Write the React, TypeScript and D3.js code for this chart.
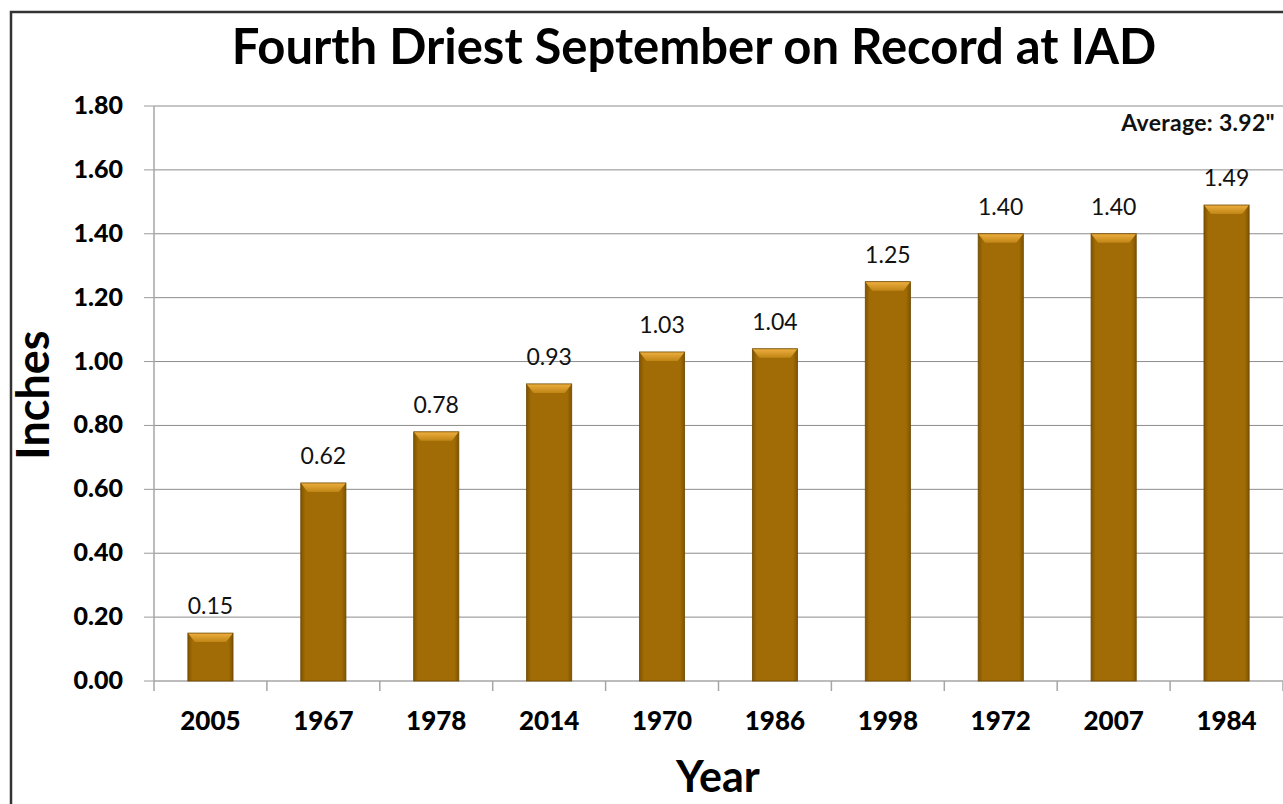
import React from "react";
import * as d3 from "d3";

const years = ["2005", "1967", "1978", "2014", "1970", "1986", "1998", "1972", "2007", "1984"];
const inches = [0.15, 0.62, 0.78, 0.93, 1.03, 1.04, 1.25, 1.4, 1.4, 1.49];
const yTicks = [0, 0.2, 0.4, 0.6, 0.8, 1.0, 1.2, 1.4, 1.6, 1.8];
const titleText = "Fourth Driest September on Record at IAD";
const averageText = 'Average: 3.92"';

const W = 1283;
const H = 804;
const M = { left: 154, right: 1283, top: 106, bottom: 681 };
const FONT = "Lato, Open Sans, DejaVu Sans, sans-serif";

export default function App() {
  const x = d3.scaleBand<string>().domain(years).range([M.left, M.right]).paddingInner(0.6).paddingOuter(0.3);
  const band = d3.scaleBand<string>().domain(years).range([M.left, M.right]);
  const y = d3.scaleLinear().domain([0, 1.8]).range([M.bottom, M.top]);
  const bw = x.bandwidth();
  const bevX = 7;
  const bevY = 9;

  return (
    <svg width={W} height={H} style={{ position: "absolute", left: 0, top: 0, display: "block" }}>
      <defs>
        <linearGradient id="body" x1="0" x2="1" y1="0" y2="0">
          <stop offset="0" stopColor="#7f5300" />
          <stop offset="0.1" stopColor="#a16c05" />
          <stop offset="0.9" stopColor="#a16c05" />
          <stop offset="1" stopColor="#7f5300" />
        </linearGradient>
        <linearGradient id="topbev" x1="0" x2="0" y1="0" y2="1">
          <stop offset="0" stopColor="#eeb040" />
          <stop offset="1" stopColor="#c08515" />
        </linearGradient>
      </defs>
      <rect x={0} y={0} width={W} height={H} fill="#fff" />
      <path d={`M11,${H} L11,12 L${W},12`} fill="none" stroke="#333" strokeWidth={2.5} />
      <text x={694} y={64} textAnchor="middle" fontFamily={FONT} fontWeight="bold" fontSize={49} fill="#000">
        {titleText}
      </text>
      {yTicks.map((t) => (
        <g key={t}>
          {t > 0 && <line x1={M.left} x2={M.right} y1={y(t)} y2={y(t)} stroke="#8c8c8c" strokeWidth={1} />}
          <line x1={M.left - 10} x2={M.left} y1={y(t)} y2={y(t)} stroke="#9a9a9a" strokeWidth={1} />
          <text x={123} y={y(t) + 8} textAnchor="end" fontFamily={FONT} fontWeight={900} fontSize={25} fill="#000">
            {t.toFixed(2)}
          </text>
        </g>
      ))}
      <line x1={M.left} x2={M.left} y1={M.top} y2={M.bottom + 10} stroke="#a6a6a6" strokeWidth={1.5} />
      <line x1={M.left} x2={M.right} y1={M.bottom} y2={M.bottom} stroke="#a6a6a6" strokeWidth={1.5} />
      {years.map((yr) => {
        const bx = band(yr)! + band.bandwidth();
        return <line key={"t" + yr} x1={bx} x2={bx} y1={M.bottom} y2={M.bottom + 10} stroke="#a6a6a6" strokeWidth={1.5} />;
      })}
      {years.map((yr, i) => {
        const x0 = x(yr)!;
        const y0 = y(inches[i]);
        const h = M.bottom - y0;
        return (
          <g key={yr}>
            <rect x={x0} y={y0} width={bw} height={h} fill="url(#body)" />
            <path
              d={`M${x0},${y0} L${x0 + bw},${y0} L${x0 + bw - bevX},${y0 + bevY} L${x0 + bevX},${y0 + bevY} Z`}
              fill="url(#topbev)"
            />
            <rect x={x0} y={y0} width={bw} height={h} fill="none" stroke="#6e4800" strokeWidth={0.8} />
            <text x={x0 + bw / 2} y={y0 - 19} textAnchor="middle" fontFamily={FONT} fontSize={23} fill="#111">
              {inches[i].toFixed(2)}
            </text>
            <text x={band(yr)! + band.bandwidth() / 2} y={730} textAnchor="middle" fontFamily={FONT} fontWeight={900} fontSize={26} fill="#000">
              {yr}
            </text>
          </g>
        );
      })}
      <text x={1275} y={131} textAnchor="end" fontFamily={FONT} fontWeight="bold" fontSize={23} letterSpacing={0.3} fill="#111">
        {averageText}
      </text>
      <text transform="translate(49,395) rotate(-90)" textAnchor="middle" fontFamily={FONT} fontWeight="bold" fontSize={45} fill="#000">
        Inches
      </text>
      <text x={718} y={792} textAnchor="middle" fontFamily={FONT} fontWeight="bold" fontSize={43} fill="#000">
        Year
      </text>
    </svg>
  );
}
